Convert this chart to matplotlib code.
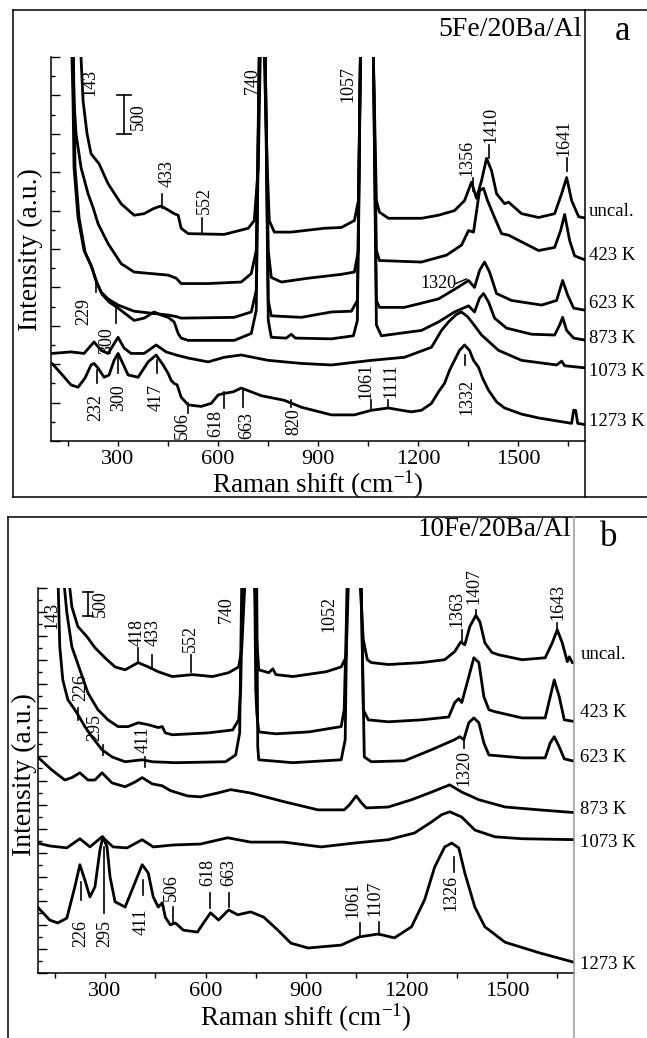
import matplotlib
matplotlib.use("Agg")
import matplotlib.pyplot as plt
from matplotlib.lines import Line2D
from matplotlib.transforms import blended_transform_factory

plt.rcParams['font.family'] = ['Liberation Serif', 'DejaVu Serif']
plt.rcParams['mathtext.fontset'] = 'custom'
plt.rcParams['mathtext.rm'] = 'Liberation Serif'
plt.rcParams['mathtext.it'] = 'Liberation Serif:italic'

# ---- data: (Raman shift cm-1, intensity) ----
SAMPLES = ["uncal.", "423 K", "623 K", "873 K", "1073 K", "1273 K"]

# panel a: 5Fe/20Ba/Al
A_UNCAL = [(176, 5470), (190, 4990), (196, 4430), (208, 4000), (220, 3740), (244, 3610), (271, 3350),
           (310, 3090), (349, 2940), (379, 2960), (409, 3030), (430, 3060), (454, 3000), (469, 2960),
           (481, 2940), (490, 2770), (511, 2700), (619, 2690), (691, 2770), (709, 2870), (721, 3560),
           (727, 4990), (730, 7000), (739, 4990), (748, 3560), (754, 2870), (769, 2720), (820, 2720),
           (919, 2770), (970, 2780), (1009, 2870), (1021, 3130), (1027, 4990), (1045, 7000), (1066, 4990),
           (1075, 3130), (1084, 2980), (1111, 2900), (1210, 2900), (1261, 2940), (1309, 3000), (1339, 3130),
           (1360, 3370), (1375, 3160), (1390, 3390), (1405, 3680), (1420, 3520), (1435, 3220), (1459, 3090),
           (1471, 3110), (1510, 2960), (1561, 2910), (1609, 2960), (1630, 3220), (1645, 3430), (1660, 3130),
           (1681, 2920), (1705, 2900)]
A_423 = [(166, 5470), (169, 4430), (175, 4000), (190, 3560), (211, 3220), (226, 3040), (241, 2830),
         (271, 2570), (310, 2310), (349, 2200), (400, 2180), (451, 2160), (475, 2120), (490, 2050),
         (571, 2050), (670, 2070), (700, 2180), (715, 2480), (724, 4990), (730, 7000), (742, 4990),
         (751, 2480), (760, 2130), (790, 2070), (871, 2120), (970, 2170), (1009, 2200), (1021, 2480),
         (1027, 4990), (1045, 7000), (1066, 4990), (1075, 2480), (1084, 2350), (1210, 2330), (1285, 2420),
         (1330, 2550), (1351, 2740), (1366, 2720), (1384, 3260), (1396, 3290), (1408, 3130), (1429, 2910),
         (1450, 2700), (1471, 2680), (1561, 2480), (1609, 2520), (1627, 2740), (1639, 2950), (1654, 2610),
         (1669, 2410), (1705, 2350)]
A_623 = [(160, 5470), (166, 4430), (169, 3560), (181, 2910), (199, 2480), (220, 2290), (235, 2090),
         (250, 1940), (271, 1850), (301, 1770), (349, 1690), (409, 1660), (451, 1640), (475, 1620),
         (490, 1600), (649, 1610), (700, 1680), (715, 1960), (724, 4990), (730, 7000), (742, 4990),
         (751, 1830), (760, 1630), (850, 1610), (940, 1680), (1000, 1690), (1018, 1830), (1027, 4990),
         (1045, 7000), (1066, 4990), (1075, 1830), (1084, 1740), (1159, 1740), (1261, 1850), (1315, 1990),
         (1351, 2090), (1369, 2000), (1384, 2220), (1399, 2330), (1414, 2200), (1435, 1920), (1480, 1830),
         (1570, 1770), (1615, 1830), (1633, 2090), (1648, 1900), (1666, 1730), (1705, 1700)]
A_873 = [(163, 5470), (169, 4430), (172, 3560), (184, 2910), (202, 2460), (223, 2250), (238, 2050),
         (253, 1910), (274, 1810), (301, 1730), (349, 1570), (379, 1600), (409, 1680), (430, 1640),
         (451, 1610), (469, 1550), (481, 1400), (490, 1340), (511, 1310), (649, 1310), (700, 1400),
         (715, 1700), (724, 4990), (730, 7000), (742, 4990), (751, 1570), (760, 1350), (805, 1340),
         (820, 1390), (832, 1340), (940, 1330), (1006, 1370), (1018, 1570), (1027, 4990), (1045, 7000),
         (1066, 4990), (1075, 1510), (1090, 1370), (1210, 1440), (1261, 1550), (1309, 1680), (1351, 1760),
         (1369, 1680), (1384, 1860), (1396, 1920), (1411, 1810), (1429, 1600), (1465, 1470), (1540, 1390),
         (1609, 1380), (1624, 1510), (1633, 1610), (1645, 1440), (1666, 1340), (1705, 1310)]
A_1073 = [(103, 1140), (160, 1160), (199, 1140), (229, 1290), (250, 1180), (271, 1140), (301, 1350),
          (319, 1210), (340, 1140), (379, 1140), (415, 1250), (445, 1160), (475, 1120), (511, 1080),
          (571, 1030), (619, 1090), (670, 1120), (751, 1050), (850, 1010), (940, 990), (1060, 1050),
          (1159, 1090), (1240, 1220), (1270, 1440), (1291, 1550), (1315, 1650), (1330, 1680), (1348, 1620),
          (1366, 1520), (1390, 1380), (1441, 1180), (1510, 1050), (1615, 990), (1630, 1040), (1639, 980),
          (1705, 950)]
A_1273 = [(103, 1010), (130, 880), (160, 730), (181, 700), (202, 820), (220, 990), (229, 1010), (241, 950),
          (259, 830), (274, 860), (289, 1050), (301, 1140), (313, 1030), (331, 860), (361, 830), (391, 1030),
          (415, 1120), (436, 990), (451, 880), (460, 790), (469, 750), (478, 730), (490, 570), (511, 470),
          (550, 450), (580, 490), (601, 600), (619, 620), (646, 640), (670, 690), (700, 640), (730, 590),
          (799, 530), (850, 440), (940, 340), (1009, 340), (1060, 400), (1111, 430), (1150, 400),
          (1180, 380), (1210, 400), (1240, 490), (1261, 640), (1279, 750), (1294, 920), (1309, 1050),
          (1324, 1180), (1339, 1250), (1354, 1180), (1366, 1050), (1381, 960), (1393, 820), (1411, 660),
          (1435, 510), (1459, 430), (1510, 350), (1561, 300), (1660, 230), (1666, 400), (1672, 400),
          (1678, 230), (1705, 210)]

# panel b: 10Fe/20Ba/Al
B_UNCAL = [(189, 8380), (201, 7610), (219, 7200), (246, 6990), (270, 6760), (300, 6550), (330, 6360),
           (360, 6300), (399, 6450), (429, 6360), (459, 6260), (501, 6160), (561, 6200), (621, 6160),
           (669, 6240), (699, 6360), (708, 6720), (717, 8010), (732, 9500), (747, 8010), (753, 6930),
           (759, 6300), (789, 6240), (801, 6320), (810, 6200), (861, 6160), (960, 6260), (1005, 6360),
           (1020, 6570), (1026, 8010), (1044, 9500), (1062, 8010), (1071, 6930), (1083, 6510), (1095, 6450),
           (1146, 6410), (1245, 6450), (1314, 6510), (1344, 6680), (1362, 6880), (1374, 6820), (1389, 7200),
           (1407, 7430), (1419, 7300), (1434, 6860), (1455, 6660), (1476, 6610), (1545, 6510), (1614, 6550),
           (1635, 6860), (1650, 7130), (1665, 6860), (1680, 6470), (1686, 6570), (1695, 6450), (1707, 6430)]
B_423 = [(174, 8380), (186, 7490), (201, 6780), (225, 6300), (249, 5820), (279, 5470), (309, 5260),
         (339, 5120), (369, 5120), (399, 5200), (429, 5160), (459, 5100), (471, 5120), (480, 4990),
         (501, 4950), (609, 4990), (681, 5050), (699, 5260), (705, 5890), (711, 8010), (729, 9500),
         (747, 8010), (750, 5890), (753, 5410), (759, 5010), (810, 4970), (909, 5010), (1005, 5120),
         (1014, 5470), (1023, 8010), (1044, 9500), (1065, 8010), (1071, 5470), (1086, 5260), (1146, 5220),
         (1245, 5260), (1326, 5320), (1344, 5620), (1356, 5700), (1365, 5620), (1386, 6160), (1401, 6550),
         (1416, 6450), (1431, 5740), (1446, 5470), (1464, 5430), (1545, 5300), (1614, 5300), (1629, 5740),
         (1641, 6090), (1656, 5740), (1671, 5260), (1707, 5220)]
B_623 = [(159, 8380), (165, 6780), (174, 6090), (189, 5680), (210, 5470), (219, 5370), (240, 5120),
         (261, 4910), (291, 4640), (321, 4490), (360, 4390), (411, 4430), (441, 4390), (510, 4370),
         (660, 4390), (690, 4530), (702, 4990), (708, 8010), (729, 9500), (753, 8010), (756, 4700),
         (759, 4430), (861, 4370), (1005, 4430), (1017, 4850), (1023, 8010), (1044, 9500), (1065, 8010),
         (1074, 4490), (1095, 4390), (1194, 4410), (1275, 4640), (1344, 4850), (1359, 4910), (1371, 4850),
         (1386, 5200), (1401, 5300), (1416, 5200), (1431, 4780), (1446, 4530), (1545, 4470), (1614, 4470),
         (1629, 4780), (1641, 4910), (1656, 4700), (1671, 4450), (1707, 4390)]
B_873 = [(99, 4490), (141, 4220), (180, 4010), (201, 4060), (225, 4160), (249, 4010), (270, 4010),
         (291, 4160), (321, 3950), (360, 3870), (390, 3970), (411, 4060), (441, 3930), (471, 3890),
         (495, 3790), (546, 3680), (585, 3660), (636, 3740), (675, 3810), (735, 3740), (834, 3560),
         (936, 3390), (1014, 3390), (1029, 3490), (1050, 3680), (1065, 3540), (1080, 3430), (1146, 3450),
         (1215, 3600), (1275, 3760), (1329, 3910), (1365, 3760), (1416, 3600), (1494, 3450), (1596, 3390),
         (1707, 3330)]
B_1073 = [(99, 2700), (135, 2640), (186, 2600), (225, 2790), (255, 2620), (291, 2830), (324, 2620),
          (366, 2600), (411, 2770), (444, 2620), (504, 2660), (585, 2680), (666, 2810), (735, 2720),
          (834, 2720), (945, 2620), (1044, 2700), (1146, 2770), (1224, 2910), (1275, 3140), (1305, 3290),
          (1329, 3350), (1365, 3240), (1404, 2970), (1464, 2830), (1545, 2790), (1707, 2770)]
B_1273 = [(99, 1370), (135, 1100), (159, 1040), (186, 1140), (210, 1790), (225, 2250), (240, 1930),
          (255, 1580), (270, 1790), (285, 2560), (294, 2830), (306, 2620), (315, 2000), (330, 1480),
          (360, 1370), (381, 1730), (411, 2250), (429, 2080), (444, 1580), (459, 1370), (471, 1460),
          (480, 1160), (495, 1000), (510, 1040), (534, 890), (576, 850), (594, 1040), (615, 1250),
          (639, 1100), (669, 1310), (696, 1210), (735, 1270), (774, 1160), (816, 890), (855, 620),
          (906, 520), (1005, 580), (1059, 750), (1116, 810), (1164, 730), (1215, 960), (1254, 1520),
          (1284, 2200), (1314, 2620), (1335, 2700), (1356, 2600), (1374, 2080), (1404, 1370), (1434, 960),
          (1494, 640), (1596, 420), (1707, 210)]

# sample label heights on the right edge
A_SAMPLE_Y = [2990, 2420, 1790, 1340, 900, 250]
B_SAMPLE_Y = [6610, 5410, 4470, 3390, 2720, 170]

# peak labels: text, x, y, tick (x, y0, y1) or None
A_PEAKS = [("143", 217, 4670, None), ("433", 448, 3480, (433, 3040, 3220)),
           ("552", 559, 3130, (553, 2700, 2910)), ("740", 703, 4690, None), ("1057", 991, 4650, None),
           ("1356", 1345, 3680, (1363, 3260, 3420)), ("1410", 1417, 4120, (1411, 3690, 3860)),
           ("1641", 1636, 3950, (1645, 3520, 3690)), ("229", 199, 1680, (235, 1940, 2090)),
           ("300", 268, 1310, (295, 1530, 1740)), ("232", 235, 430, (238, 750, 920)),
           ("300", 304, 560, (301, 880, 1090)), ("417", 415, 570, (418, 880, 1050)),
           ("506", 493, 200, (511, 360, 490)), ("618", 595, 230, (619, 430, 640)),
           ("663", 688, 200, (676, 440, 660)), ("820", 829, 250, (820, 440, 530)),
           ("1061", 1045, 780, (1060, 400, 530)), ("1111", 1117, 790, (1111, 430, 530)),
           ("1332", 1345, 570, (1339, 990, 1120))]
B_PEAKS = [("143", 141, 7430, None), ("418", 396, 7070, (399, 6470, 6760)),
           ("433", 444, 7070, (441, 6340, 6610)), ("552", 555, 6950, (558, 6260, 6610)),
           ("740", 663, 7550, None), ("1052", 969, 7450, None),
           ("1363", 1350, 7570, (1365, 6880, 7130)), ("1407", 1401, 8030, (1407, 7430, 7550)),
           ("1643", 1653, 7700, (1650, 7090, 7280)), ("226", 228, 5930, (219, 5260, 5510)),
           ("295", 270, 5100, (294, 4530, 4740)), ("411", 414, 4850, (420, 4280, 4490)),
           ("1320", 1371, 4260, (1371, 4680, 4890)), ("226", 228, 830, (228, 1520, 1890)),
           ("295", 300, 830, (297, 1250, 2620)), ("411", 408, 1060, (414, 1620, 1930)),
           ("506", 498, 1770, (504, 1040, 1370)), ("618", 606, 2080, (612, 1350, 1660)),
           ("663", 669, 2080, (669, 1370, 1660)), ("1061", 1041, 1520, (1062, 750, 1040)),
           ("1107", 1107, 1560, (1119, 790, 1060)), ("1326", 1332, 1660, (1341, 2100, 2410))]

W, H = 647, 1038
fig = plt.figure(figsize=(W / 100, H / 100), dpi=100)


def fx(px):
    return px / W


def fy(py):
    return 1 - py / H


def frame_line(x0, y0, x1, y1, color='black', lw=1.1):
    fig.add_artist(Line2D([fx(x0), fx(x1)], [fy(y0), fy(y1)], transform=fig.transFigure,
                          color=color, lw=lw))


def draw_panel(ax, curves, ymax, peaks, sample_y, label_x):
    for pts in curves:
        xs, ys = zip(*pts)
        ax.plot(xs, ys, color='black', lw=2.0, solid_joinstyle='round', solid_capstyle='round')
    ax.set_xlim(100, 1700)
    ax.set_ylim(0, ymax)
    ax.set_xticks([300, 600, 900, 1200, 1500])
    ax.set_xticks([150, 450, 750, 1050, 1350, 1650], minor=True)
    ax.set_yticks(range(0, ymax + 1, 500))
    ax.set_yticks(range(250, ymax, 500), minor=True)
    ax.set_yticklabels([])
    ax.tick_params(axis='x', which='both', direction='out', length=3.6, width=1.0,
                   labelsize=16, pad=3)
    ax.tick_params(axis='y', which='major', direction='in', length=6.5, width=1.0)
    ax.tick_params(axis='y', which='minor', direction='in', length=3.2, width=1.0)
    for side in ['top', 'right']:
        ax.spines[side].set_visible(False)
    for side in ['left', 'bottom']:
        ax.spines[side].set_linewidth(1.1)
    ax.patch.set_alpha(0)

    for txt, x, y, tick in peaks:
        ax.text(x, y, txt, rotation=90, ha='center', va='center', fontsize=13, clip_on=False)
        if tick is not None:
            ax.plot([tick[0], tick[0]], [tick[1], tick[2]], color='black', lw=1.2)

    trans = blended_transform_factory(ax.transAxes, ax.transData)
    for name, y in zip(SAMPLES, sample_y):
        ax.text(label_x, y, name, transform=trans, ha='left', va='center', fontsize=13.5,
                clip_on=False)


ax_a = fig.add_axes([fx(51), fy(441), (585 - 51) / W, (441 - 57) / H])
draw_panel(ax_a, [A_UNCAL, A_423, A_623, A_873, A_1073, A_1273], 5000, A_PEAKS, A_SAMPLE_Y, 1.007)
# scale bar and extra label for panel a
ax_a.plot([319, 319], [4000, 4500], color='black', lw=1.2)
ax_a.plot([297, 341], [4000, 4000], color='black', lw=1.2)
ax_a.plot([297, 341], [4500, 4500], color='black', lw=1.2)
ax_a.text(361, 4230, "500", rotation=90, ha='center', va='center', fontsize=13)
ax_a.text(1261, 2050, "1320", ha='center', va='center', fontsize=13)
ax_a.plot([1312, 1345], [2050, 2110], color='black', lw=1.0)

ax_b = fig.add_axes([fx(38), fy(973), (574 - 38) / W, (973 - 588) / H])
draw_panel(ax_b, [B_UNCAL, B_423, B_623, B_873, B_1073, B_1273], 8000, B_PEAKS, B_SAMPLE_Y, 1.012)
ax_b.plot([249, 249], [7420, 7920], color='black', lw=1.2)
ax_b.plot([234, 264], [7420, 7420], color='black', lw=1.2)
ax_b.plot([234, 264], [7920, 7920], color='black', lw=1.2)
ax_b.text(285, 7680, "500", rotation=90, ha='center', va='center', fontsize=13)

# frames around the panels
frame_line(13, 10, 647, 10)
frame_line(13, 10, 13, 497)
frame_line(13, 497, 647, 497)
frame_line(585, 10, 585, 497)
frame_line(8, 517, 647, 517)
frame_line(8, 517, 8, 1038)
frame_line(574, 517, 574, 1038, color='#999999')

# titles and axis labels
fig.text(fx(582), fy(30), "5Fe/20Ba/Al", ha='right', va='center', fontsize=20)
fig.text(fx(622), fy(31), "a", ha='center', va='center', fontsize=25)
fig.text(fx(571), fy(530), "10Fe/20Ba/Al", ha='right', va='center', fontsize=19.5)
fig.text(fx(609), fy(537), "b", ha='center', va='center', fontsize=25)

fig.text(fx(30), fy(250), "Intensity (a.u.)", rotation=90, ha='center', va='center', fontsize=20)
fig.text(fx(24), fy(775), "Intensity (a.u.)", rotation=90, ha='center', va='center', fontsize=20)
fig.text(fx(318), fy(485), r"Raman shift (cm$^{-1}$)", ha='center', va='center', fontsize=19.5)
fig.text(fx(306), fy(1018), r"Raman shift (cm$^{-1}$)", ha='center', va='center', fontsize=19.5)

fig.savefig("out.png", dpi=100)
